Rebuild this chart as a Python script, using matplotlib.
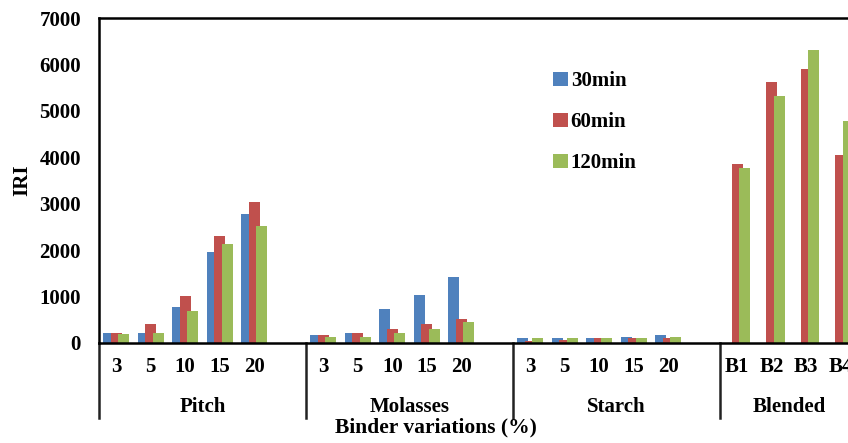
import matplotlib
matplotlib.use("Agg")
import matplotlib.pyplot as plt
import numpy as np
from matplotlib.transforms import blended_transform_factory

plt.rcParams['font.family'] = ['Liberation Serif', 'DejaVu Serif']
plt.rcParams['font.weight'] = 'bold'

# ---- data ----
groups = ["Pitch", "Molasses", "Starch", "Blended"]
group_cats = [["3", "5", "10", "15", "20", ""],
              ["3", "5", "10", "15", "20", ""],
              ["3", "5", "10", "15", "20", ""],
              ["B1", "B2", "B3", "B4"]]
series_names = ["30min", "60min", "120min"]
iri_30 = [220, 220, 780, 1970, 2780, np.nan,
          176, 226, 736, 1030, 1425, np.nan,
          100, 100, 100, 130, 173, np.nan,
          np.nan, np.nan, np.nan, np.nan]
iri_60 = [220, 410, 1010, 2300, 3030, np.nan,
          176, 226, 305, 405, 527, np.nan,
          50, 70, 100, 100, 100, np.nan,
          3855, 5620, 5900, 4055]
iri_120 = [200, 220, 680, 2130, 2520, np.nan,
           133, 133, 226, 305, 456, np.nan,
           100, 100, 100, 100, 120, np.nan,
           3760, 5325, 6320, 4790]
colors = ["#4F81BD", "#C0504D", "#9BBB59"]

W, H = 848, 443
fig = plt.figure(figsize=(W / 100, H / 100), dpi=100)
n = sum(len(g) for g in group_cats)
slot = 34.5
ax = fig.add_axes([99 / W, 1 - 343 / H, n * slot / W, (343 - 18) / H])

x = np.arange(n)
bw = 0.32
off = 0.22
for k, (vals, c, name) in enumerate(zip([iri_30, iri_60, iri_120], colors, series_names)):
    ax.bar(x + (k - 1) * off, vals, width=bw, color=c, label=name, zorder=2)

FS = 15
ax.set_xlim(-0.5, n - 0.5)
ax.set_ylim(0, 7000)
ax.set_yticks(np.arange(0, 7001, 1000))
ax.tick_params(axis='y', length=0, labelsize=FS, pad=13)
labels = [c for g in group_cats for c in g]
ax.set_xticks(x)
ax.set_xticklabels(labels)
ax.tick_params(axis='x', length=0, labelsize=FS, pad=10)
for s in ax.spines.values():
    s.set_linewidth(1.8)
    s.set_color('black')
ax.set_ylabel("IRI", fontsize=FS, fontweight='bold', labelpad=5)

trans = blended_transform_factory(ax.transData, ax.transAxes)
start = 0
for g, cats in zip(groups, group_cats):
    xs = start - 0.5
    ax.plot([xs, xs], [0, -75 / 325], transform=trans, color='#222222',
            lw=1.8, clip_on=False)
    ax.text(start + (len(cats) - 1) / 2, -64 / 325, g, transform=trans,
            ha='center', va='center', fontsize=FS, fontweight='bold')
    start += len(cats)

fig.text(436 / W, 1 - 427 / H, "Binder variations (%)", ha='center', va='center',
         fontsize=15.5, fontweight='bold')

leg = ax.legend(loc='upper left', bbox_to_anchor=(543 / W, 1 - 61 / H),
                bbox_transform=fig.transFigure, frameon=False, borderpad=0,
                prop={'size': FS, 'weight': 'bold'}, handlelength=0.68,
                handleheight=0.68, handletextpad=0.15, labelspacing=1.0)

fig.savefig("out.png", dpi=100)
